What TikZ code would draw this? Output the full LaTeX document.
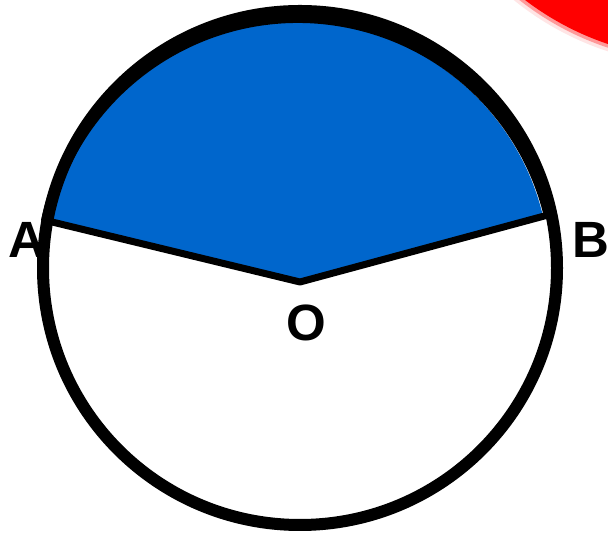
\documentclass[tikz,border=0pt]{standalone}
\usepackage{fontspec}
\setmainfont{Liberation Sans}
\definecolor{sectorblue}{HTML}{0066CC}
\tikzset{
  lbl/.style={font=\fontsize{51}{60}\bfseries\selectfont,inner sep=0pt},
}
\begin{document}
\begin{tikzpicture}[x=1pt,y=1pt,line cap=round,line join=round]
  \useasboundingbox (0,0) rectangle (608,534);
  \clip (0,0) rectangle (608,534);
  % red blob in the corner
  \fill[red!10] (700,764) circle (296);
  \fill[red!40] (700,764) circle (292.5);
  \fill[red] (700,764) circle (289);
  \coordinate (C) at (300,266);
  \coordinate (S) at (298,258);
  \coordinate (O) at (300,252);
  \coordinate (A) at (48,313);
  \coordinate (B) at (548,319);
  % sector
  \fill[sectorblue] (O) -- (A)
    arc[start angle=167.6,end angle=13.7,radius=254] -- cycle;
  \draw[line width=10] (S) ++(167.6:258) arc[start angle=167.6,end angle=13.7,radius=258];
  \draw[line width=7] (A) -- (O) -- (B);
  \node[lbl] (labA) at (27,294) {A};
  \node[lbl] (labB) at (591,294) {B};
  \node[lbl] (labO) at (306,211) {O};
  % circle
  \draw[line width=12] (C) circle (257);
\end{tikzpicture}
\end{document}
